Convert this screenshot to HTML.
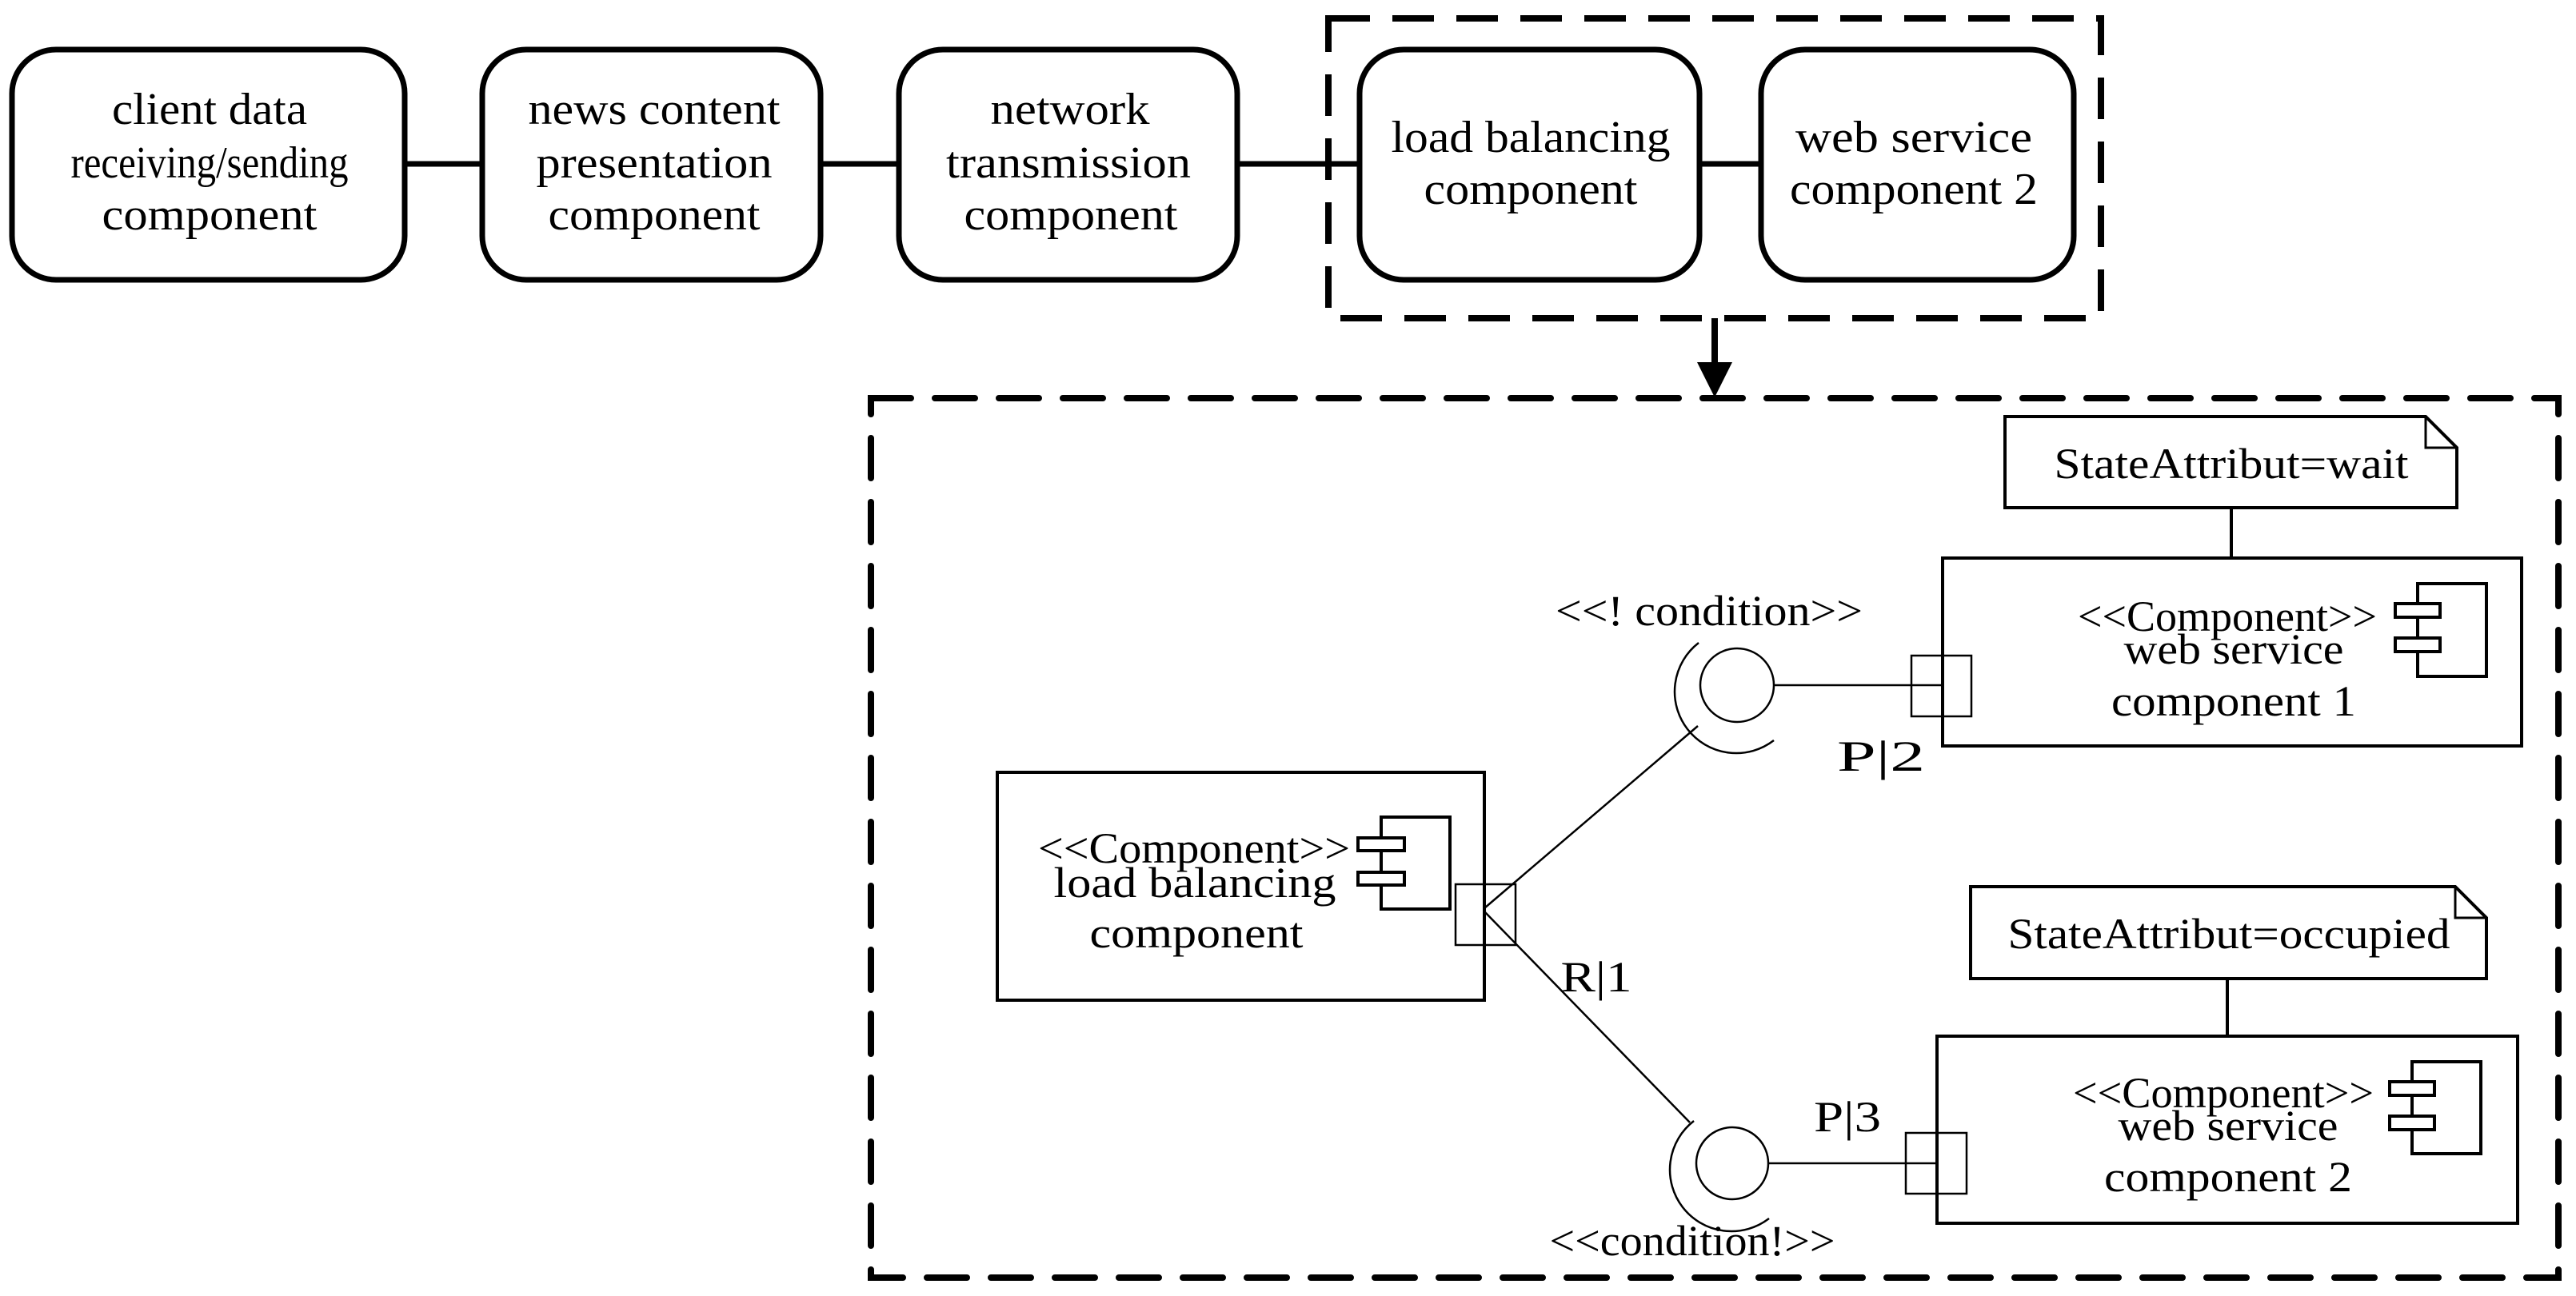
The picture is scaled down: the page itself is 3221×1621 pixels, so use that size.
<!DOCTYPE html>
<html><head><meta charset="utf-8"><style>html,body{margin:0;padding:0;background:#fff}svg{display:block}</style></head>
<body>
<svg width="3221" height="1621" viewBox="0 0 3221 1621" xmlns="http://www.w3.org/2000/svg" font-family="Liberation Serif, serif" fill="none" stroke="#000">
<g stroke-width="7">
<rect x="15" y="62" width="491" height="288" rx="55"/>
<rect x="603" y="62" width="423" height="288" rx="55"/>
<rect x="1124" y="62" width="423" height="288" rx="55"/>
<rect x="1700" y="62" width="425" height="288" rx="55"/>
<rect x="2202" y="62" width="391" height="288" rx="55"/>
<line x1="506" y1="205" x2="603" y2="205"/>
<line x1="1026" y1="205" x2="1124" y2="205"/>
<line x1="1547" y1="205" x2="1700" y2="205"/>
<line x1="2125" y1="205" x2="2202" y2="205"/>
</g>
<rect x="1661" y="23" width="966" height="375" stroke-width="8" stroke-dasharray="52 28"/>
<line x1="2144" y1="398" x2="2144" y2="455" stroke-width="8"/>
<polygon points="2122,453 2166,453 2144,497" fill="#000" stroke="none"/>
<rect x="1089" y="498" width="2110" height="1100" stroke-width="8" stroke-dasharray="50 30" stroke-linecap="round"/>
<g fill="#000" stroke="none" font-size="56" text-anchor="middle">
<text x="262" y="155" textLength="244" lengthAdjust="spacingAndGlyphs">client data</text>
<text x="262" y="222" textLength="347" lengthAdjust="spacingAndGlyphs">receiving/sending</text>
<text x="262" y="287" textLength="269" lengthAdjust="spacingAndGlyphs">component</text>
<text x="818" y="155" textLength="315" lengthAdjust="spacingAndGlyphs">news content</text>
<text x="818" y="222" textLength="295" lengthAdjust="spacingAndGlyphs">presentation</text>
<text x="818" y="287" textLength="265" lengthAdjust="spacingAndGlyphs">component</text>
<text x="1338" y="155" textLength="199" lengthAdjust="spacingAndGlyphs">network</text>
<text x="1336" y="222" textLength="306" lengthAdjust="spacingAndGlyphs">transmission</text>
<text x="1339" y="287" textLength="267" lengthAdjust="spacingAndGlyphs">component</text>
<text x="1914" y="190" textLength="349" lengthAdjust="spacingAndGlyphs">load balancing</text>
<text x="1914" y="255" textLength="267" lengthAdjust="spacingAndGlyphs">component</text>
<text x="2393" y="190" textLength="296" lengthAdjust="spacingAndGlyphs">web service</text>
<text x="2393" y="255" textLength="310" lengthAdjust="spacingAndGlyphs">component 2</text>
</g>
<g stroke-width="4">
<path d="M2507 521 H3033 L3072 560 V635 H2507 Z"/>
<path d="M3033 521 V560 H3072" stroke-width="3"/>
<line x1="2790" y1="635" x2="2790" y2="698"/>
<rect x="2429" y="698" width="724" height="235"/>
<rect x="3023" y="730" width="86" height="116"/>
<rect x="2995" y="755" width="56" height="17" fill="#fff"/>
<rect x="2995" y="798" width="56" height="17" fill="#fff"/>
<path d="M2464 1109 H3070 L3109 1148 V1224 H2464 Z"/>
<path d="M3070 1109 V1148 H3109" stroke-width="3"/>
<line x1="2785" y1="1224" x2="2785" y2="1296"/>
<rect x="2422" y="1296" width="726" height="234"/>
<rect x="3016" y="1328" width="86" height="115"/>
<rect x="2988" y="1353" width="56" height="17" fill="#fff"/>
<rect x="2988" y="1396" width="56" height="17" fill="#fff"/>
<rect x="1247" y="966" width="609" height="285"/>
<rect x="1727" y="1022" width="86" height="115"/>
<rect x="1698" y="1048" width="58" height="16" fill="#fff"/>
<rect x="1698" y="1091" width="58" height="16" fill="#fff"/>
</g>
<g stroke-width="2.5">
<rect x="1820" y="1106" width="75" height="76"/>
<rect x="2390" y="820" width="75" height="76"/>
<rect x="2383" y="1417" width="76" height="76"/>
<line x1="1856" y1="1136" x2="2123" y2="908"/>
<line x1="1856" y1="1140" x2="2113" y2="1404"/>
<line x1="2218" y1="857" x2="2428" y2="857"/>
<line x1="2211" y1="1455" x2="2421" y2="1455"/>
<circle cx="2172" cy="857" r="46"/>
<path d="M2124 804 A72 72 0 0 0 2218 926"/>
<circle cx="2166" cy="1455" r="45"/>
<path d="M2118 1402 A72 72 0 0 0 2212 1524"/>
</g>
<g fill="#000" stroke="none" font-size="54" text-anchor="middle">
<text x="2790" y="598" textLength="443" lengthAdjust="spacingAndGlyphs">StateAttribut=wait</text>
<text x="2787" y="1186" textLength="553" lengthAdjust="spacingAndGlyphs">StateAttribut=occupied</text>
<text x="2785" y="789" textLength="374" lengthAdjust="spacingAndGlyphs">&lt;&lt;Component&gt;&gt;</text>
<text x="2793" y="830" textLength="275" lengthAdjust="spacingAndGlyphs">web service</text>
<text x="2793" y="895" textLength="306" lengthAdjust="spacingAndGlyphs">component 1</text>
<text x="2780" y="1385" textLength="376" lengthAdjust="spacingAndGlyphs">&lt;&lt;Component&gt;&gt;</text>
<text x="2786" y="1426" textLength="275" lengthAdjust="spacingAndGlyphs">web service</text>
<text x="2786" y="1490" textLength="310" lengthAdjust="spacingAndGlyphs">component 2</text>
<text x="1493" y="1079" textLength="390" lengthAdjust="spacingAndGlyphs">&lt;&lt;Component&gt;&gt;</text>
<text x="1494" y="1122" textLength="353" lengthAdjust="spacingAndGlyphs">load balancing</text>
<text x="1496" y="1185" textLength="267" lengthAdjust="spacingAndGlyphs">component</text>
<text x="2137" y="782" textLength="384" lengthAdjust="spacingAndGlyphs">&lt;&lt;!  condition&gt;&gt;</text>
<text x="2116" y="1570" textLength="357" lengthAdjust="spacingAndGlyphs">&lt;&lt;condition!&gt;&gt;</text>
<text x="2352" y="964" textLength="110" lengthAdjust="spacingAndGlyphs">P|2</text>
<text x="1996" y="1240" textLength="89" lengthAdjust="spacingAndGlyphs">R|1</text>
<text x="2310" y="1415" textLength="84" lengthAdjust="spacingAndGlyphs">P|3</text>
</g>
</svg>
</body></html>
